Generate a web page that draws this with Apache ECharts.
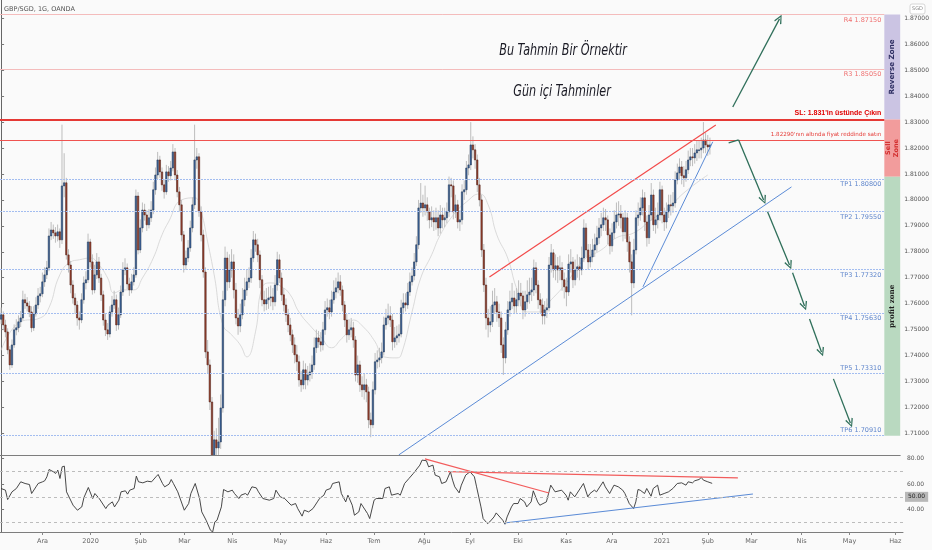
<!DOCTYPE html>
<html><head><meta charset="utf-8">
<script src="https://cdn.jsdelivr.net/npm/echarts@6/dist/echarts.min.js"></script>
<style>html,body{margin:0;padding:0;background:#fafafa}#c{width:932px;height:550px}</style>
</head><body><div id="c"></div>
<script>
// ---------- data ----------
const firstOpen = 1.7540;
const closes = [
1.7557,1.7518,1.7491,1.7422,1.7364,1.7441,1.7499,1.7507,1.7530,1.7545,
1.7615,1.7603,1.7591,1.7568,1.7507,1.7561,1.7595,1.7630,1.7638,1.7684,
1.7711,1.7738,1.7861,1.7884,1.7873,1.7861,1.7877,1.7846,1.8054,1.8066,
1.7788,1.7749,1.7672,1.7622,1.7595,1.7545,1.7537,1.7615,1.7680,1.7692,
1.7838,1.7761,1.7653,1.7711,1.7761,1.7699,1.7634,1.7537,1.7499,1.7483,
1.7568,1.7595,1.7615,1.7518,1.7557,1.7645,1.7730,1.7738,1.7676,1.7653,
1.7684,1.7711,1.8015,1.7807,1.7892,1.7961,1.7942,1.7904,1.7931,1.7961,
1.8039,1.8096,1.8154,1.8108,1.8058,1.8031,1.8108,1.8093,1.8123,1.8185,
1.8096,1.8031,1.7981,1.7865,1.7749,1.7776,1.7815,1.7892,1.7981,1.8154,
1.8166,1.7954,1.7865,1.7722,1.7414,1.7364,1.7221,1.7000,1.7075,1.7044,
1.7067,1.7198,1.7615,1.7776,1.7684,1.7730,1.7761,1.7653,1.7545,1.7514,
1.7557,1.7615,1.7653,1.7684,1.7699,1.7776,1.7846,1.7827,1.7788,1.7692,
1.7615,1.7599,1.7615,1.7622,1.7626,1.7607,1.7672,1.7769,1.7699,1.7634,
1.7595,1.7557,1.7518,1.7480,1.7441,1.7403,1.7376,1.7306,1.7287,1.7345,
1.7306,1.7325,1.7337,1.7364,1.7430,1.7468,1.7453,1.7441,1.7499,1.7576,
1.7584,1.7568,1.7615,1.7645,1.7661,1.7684,1.7653,1.7595,1.7537,1.7480,
1.7499,1.7507,1.7460,1.7325,1.7364,1.7287,1.7268,1.7287,1.7260,1.7152,
1.7133,1.7268,1.7376,1.7383,1.7391,1.7414,1.7518,1.7545,1.7553,1.7537,
1.7453,1.7468,1.7476,1.7483,1.7584,1.7603,1.7595,1.7645,1.7684,1.7707,
1.7761,1.7827,1.7969,1.7988,1.7969,1.7981,1.7954,1.7923,1.7931,1.7915,
1.7931,1.7892,1.7942,1.7923,1.7931,1.7954,1.8058,1.8054,1.7954,1.7981,
1.7915,1.7923,1.8031,1.8039,1.8123,1.8135,1.8212,1.8193,1.8154,1.8058,
1.8000,1.7807,1.7672,1.7545,1.7518,1.7530,1.7595,1.7607,1.7568,1.7545,
1.7441,1.7391,1.7499,1.7576,1.7607,1.7622,1.7591,1.7615,1.7641,1.7630,
1.7576,1.7607,1.7634,1.7645,1.7653,1.7738,1.7672,1.7615,1.7595,1.7553,
1.7576,1.7584,1.7749,1.7796,1.7730,1.7746,1.7730,1.7738,1.7692,1.7665,
1.7645,1.7753,1.7761,1.7692,1.7730,1.7742,1.7730,1.7776,1.7892,1.7807,
1.7761,1.7780,1.7807,1.7827,1.7854,1.7892,1.7904,1.7931,1.7923,1.7865,
1.7823,1.7873,1.7915,1.7942,1.7946,1.7931,1.7877,1.7931,1.7838,1.7761,
1.7680,1.7807,1.7931,1.7942,1.7969,1.8008,1.7915,1.7854,1.7942,1.8019,
1.7904,1.7923,1.7942,1.8039,1.7942,1.7915,1.7954,1.7981,1.7977,1.7988,
1.8077,1.8104,1.8127,1.8093,1.8085,1.8116,1.8154,1.8166,1.8162,1.8181,
1.8193,1.8193,1.8200,1.8231,1.8212,1.8204,1.8212];
const highs = [
1.7585,1.7570,1.7538,1.7505,1.7436,1.7462,1.7520,1.7540,1.7555,1.7572,
1.7650,1.7638,1.7625,1.7610,1.7590,1.7590,1.7625,1.7660,1.7665,1.7720,
1.7740,1.7765,1.7890,1.7915,1.7905,1.7895,1.7905,1.7890,1.8290,1.8180,
1.8085,1.7810,1.7765,1.7690,1.7640,1.7610,1.7570,1.7640,1.7705,1.7725,
1.7870,1.7850,1.7790,1.7750,1.7795,1.7780,1.7715,1.7650,1.7560,1.7525,
1.7590,1.7630,1.7650,1.7635,1.7585,1.7670,1.7760,1.7775,1.7755,1.7700,
1.7715,1.7740,1.8040,1.8030,1.7925,1.7990,1.7985,1.7960,1.7965,1.7995,
1.8070,1.8125,1.8185,1.8170,1.8125,1.8080,1.8135,1.8130,1.8150,1.8215,
1.8200,1.8115,1.8050,1.8000,1.7880,1.7805,1.7845,1.7920,1.8010,1.8290,
1.8200,1.8180,1.7975,1.7885,1.7740,1.7460,1.7385,1.7240,1.7110,1.7120,
1.7160,1.7250,1.7650,1.7820,1.7800,1.7790,1.7810,1.7790,1.7680,1.7580,
1.7600,1.7660,1.7700,1.7730,1.7740,1.7810,1.7880,1.7870,1.7850,1.7805,
1.7710,1.7650,1.7660,1.7665,1.7670,1.7660,1.7710,1.7800,1.7790,1.7720,
1.7660,1.7620,1.7580,1.7545,1.7500,1.7470,1.7440,1.7400,1.7340,1.7380,
1.7370,1.7360,1.7370,1.7400,1.7470,1.7500,1.7495,1.7490,1.7530,1.7610,
1.7620,1.7615,1.7650,1.7690,1.7700,1.7720,1.7710,1.7670,1.7610,1.7560,
1.7540,1.7545,1.7530,1.7475,1.7400,1.7380,1.7320,1.7330,1.7310,1.7280,
1.7180,1.7300,1.7410,1.7420,1.7430,1.7450,1.7550,1.7580,1.7600,1.7590,
1.7560,1.7510,1.7515,1.7520,1.7615,1.7640,1.7640,1.7680,1.7720,1.7740,
1.7795,1.7860,1.8000,1.8065,1.8020,1.8055,1.8010,1.7970,1.7975,1.7960,
1.7970,1.7960,1.7980,1.7970,1.7970,1.7990,1.8090,1.8085,1.8075,1.8020,
1.8000,1.7960,1.8060,1.8075,1.8150,1.8175,1.8300,1.8245,1.8215,1.8175,
1.8085,1.8020,1.7830,1.7700,1.7580,1.7590,1.7650,1.7660,1.7630,1.7600,
1.7570,1.7470,1.7530,1.7610,1.7650,1.7680,1.7650,1.7660,1.7690,1.7680,
1.7650,1.7650,1.7690,1.7700,1.7700,1.7770,1.7760,1.7690,1.7640,1.7620,
1.7610,1.7620,1.7780,1.7830,1.7810,1.7790,1.7780,1.7785,1.7760,1.7720,
1.7700,1.7790,1.7810,1.7780,1.7770,1.7790,1.7780,1.7820,1.7925,1.7910,
1.7830,1.7830,1.7850,1.7870,1.7900,1.7930,1.7950,1.7970,1.7965,1.7940,
1.7890,1.7910,1.7960,1.7990,1.7995,1.7980,1.7950,1.7960,1.7950,1.7860,
1.7790,1.7850,1.7960,1.7990,1.8010,1.8040,1.8030,1.7940,1.7980,1.8065,
1.8040,1.7970,1.7990,1.8070,1.8055,1.7970,1.7990,1.8020,1.8020,1.8030,
1.8110,1.8140,1.8160,1.8150,1.8130,1.8150,1.8190,1.8200,1.8200,1.8215,
1.8230,1.8230,1.8240,1.8300,1.8260,1.8250,1.8240];
const lows = [
1.7522,1.7497,1.7470,1.7405,1.7345,1.7352,1.7430,1.7478,1.7490,1.7510,
1.7535,1.7580,1.7570,1.7548,1.7490,1.7495,1.7550,1.7580,1.7605,1.7625,
1.7665,1.7695,1.7725,1.7845,1.7850,1.7835,1.7840,1.7815,1.7830,1.8010,
1.7770,1.7720,1.7640,1.7600,1.7560,1.7515,1.7500,1.7525,1.7600,1.7655,
1.7680,1.7740,1.7635,1.7640,1.7695,1.7680,1.7610,1.7515,1.7475,1.7460,
1.7470,1.7550,1.7580,1.7495,1.7500,1.7545,1.7630,1.7710,1.7655,1.7630,
1.7640,1.7670,1.7700,1.7790,1.7795,1.7875,1.7920,1.7880,1.7890,1.7915,
1.7945,1.8020,1.8080,1.8085,1.8035,1.8005,1.8020,1.8070,1.8075,1.8110,
1.8075,1.8010,1.7955,1.7840,1.7720,1.7730,1.7760,1.7800,1.7875,1.7965,
1.8120,1.7935,1.7840,1.7700,1.7390,1.7330,1.7190,1.6900,1.6950,1.6980,
1.6990,1.7040,1.7180,1.7590,1.7650,1.7660,1.7700,1.7620,1.7520,1.7480,
1.7490,1.7540,1.7590,1.7630,1.7660,1.7680,1.7760,1.7800,1.7760,1.7660,
1.7590,1.7570,1.7575,1.7580,1.7590,1.7575,1.7590,1.7650,1.7680,1.7610,
1.7570,1.7530,1.7490,1.7455,1.7410,1.7370,1.7340,1.7280,1.7260,1.7270,
1.7270,1.7285,1.7300,1.7310,1.7345,1.7410,1.7430,1.7415,1.7420,1.7480,
1.7550,1.7540,1.7550,1.7600,1.7620,1.7640,1.7630,1.7570,1.7510,1.7450,
1.7460,1.7470,1.7430,1.7300,1.7295,1.7260,1.7240,1.7230,1.7220,1.7120,
1.7085,1.7120,1.7250,1.7350,1.7355,1.7370,1.7400,1.7500,1.7520,1.7510,
1.7420,1.7430,1.7440,1.7450,1.7470,1.7560,1.7570,1.7580,1.7630,1.7670,
1.7690,1.7745,1.7810,1.7950,1.7935,1.7940,1.7920,1.7890,1.7895,1.7880,
1.7885,1.7860,1.7870,1.7890,1.7895,1.7910,1.7935,1.8010,1.7925,1.7930,
1.7890,1.7880,1.7905,1.8000,1.8020,1.8095,1.8115,1.8160,1.8120,1.8030,
1.7975,1.7780,1.7645,1.7500,1.7470,1.7490,1.7510,1.7560,1.7530,1.7510,
1.7410,1.7325,1.7370,1.7480,1.7550,1.7580,1.7560,1.7565,1.7590,1.7590,
1.7540,1.7550,1.7580,1.7600,1.7610,1.7630,1.7640,1.7580,1.7560,1.7520,
1.7520,1.7545,1.7570,1.7720,1.7700,1.7690,1.7680,1.7690,1.7650,1.7620,
1.7590,1.7630,1.7720,1.7660,1.7670,1.7700,1.7690,1.7710,1.7760,1.7780,
1.7730,1.7740,1.7760,1.7780,1.7800,1.7830,1.7860,1.7880,1.7880,1.7830,
1.7790,1.7800,1.7850,1.7890,1.7900,1.7890,1.7840,1.7850,1.7800,1.7720,
1.7555,1.7660,1.7790,1.7900,1.7920,1.7940,1.7880,1.7820,1.7830,1.7920,
1.7880,1.7870,1.7890,1.7920,1.7910,1.7880,1.7890,1.7930,1.7940,1.7950,
1.7970,1.8060,1.8080,1.8060,1.8050,1.8070,1.8100,1.8130,1.8130,1.8140,
1.8150,1.8160,1.8160,1.8180,1.8180,1.8170,1.8175];
// light moving-average curve, read as [bar index, price]
const maPoints = [[0,1.7420],[9,1.7530],[18,1.7545],[22,1.7584],[27,1.7711],[32,1.7761],[36,1.7769],[41,1.7776],[45,1.7749],[49,1.7699],[52,1.7641],[56,1.7653],[61,1.7653],[65,1.7699],[70,1.7776],[74,1.7865],[77,1.7915],[83,1.8000],[89,1.8008],[92,1.7954],[95,1.7838],[98,1.7711],[102,1.7518],[106,1.7480],[110,1.7441],[113,1.7395],[117,1.7491],[120,1.7661],[124,1.7680],[129,1.7665],[133,1.7634],[137,1.7568],[143,1.7507],[147,1.7472],[152,1.7430],[156,1.7460],[160,1.7499],[162,1.7537],[167,1.7507],[172,1.7453],[176,1.7395],[182,1.7391],[184,1.7403],[189,1.7568],[193,1.7699],[198,1.7788],[202,1.7865],[208,1.7942],[214,1.7992],[220,1.8023],[224,1.7981],[228,1.7865],[233,1.7776],[237,1.7661],[242,1.7568],[247,1.7568],[253,1.7615],[260,1.7680],[268,1.7769],[276,1.7807],[283,1.7854],[291,1.7873],[299,1.7923],[306,1.7961],[314,1.8027],[325,1.8096]];
// RSI read as [bar index, value]
const rsiPoints = [[0,56.5],[2,55.2],[3,47.9],[5,53.9],[7,56.5],[9,61.7],[11,60.4],[13,59.6],[14,52.6],[16,57.8],[17,60.4],[19,61.7],[20,62.5],[21,65.6],[22,71.3],[24,69.5],[25,68.2],[26,70.8],[27,64.3],[28,73.4],[29,73.9],[30,53.9],[33,43.5],[35,39.6],[37,42.2],[38,49.5],[40,57.3],[42,48.7],[43,52.6],[45,48.7],[48,40.9],[49,43.5],[51,46.1],[52,42.2],[54,47.4],[55,53.9],[57,54.7],[58,52.1],[59,55.2],[61,56.5],[62,66.1],[63,61.7],[65,60.9],[67,62.2],[69,61.7],[71,65.6],[72,67.4],[74,60.4],[75,57.8],[77,59.9],[78,63.5],[79,60.4],[81,53.9],[84,39.6],[86,44.8],[87,52.6],[89,60.4],[91,48.7],[92,38.3],[94,31.8],[96,24.0],[97,22.7],[98,30.5],[99,31.8],[101,42.2],[102,55.7],[104,53.9],[106,55.2],[107,52.6],[109,48.7],[110,51.3],[112,52.6],[113,51.3],[115,57.8],[117,57.0],[118,53.9],[120,48.7],[123,47.4],[125,48.7],[126,55.2],[128,50.0],[130,48.7],[133,43.5],[135,44.8],[136,40.9],[138,35.0],[139,39.6],[141,38.3],[143,40.9],[145,46.1],[146,48.7],[148,51.3],[149,55.2],[151,56.5],[152,60.4],[155,61.7],[156,52.6],[158,46.1],[159,51.3],[161,43.5],[162,35.7],[164,38.3],[165,44.8],[166,42.2],[168,37.0],[169,33.1],[171,47.4],[172,48.7],[175,48.7],[176,56.5],[178,57.8],[179,51.3],[182,52.6],[183,51.3],[185,60.4],[187,64.3],[189,68.2],[192,74.7],[193,78.6],[195,78.1],[196,73.4],[198,74.7],[199,66.9],[201,65.6],[202,60.4],[204,61.7],[206,69.5],[207,63.0],[208,57.8],[210,53.1],[211,59.1],[213,66.9],[215,69.5],[217,65.6],[218,57.8],[220,42.2],[221,33.1],[223,29.2],[224,30.5],[226,34.4],[227,37.5],[230,31.8],[231,28.7],[232,34.4],[234,42.2],[235,44.8],[237,44.8],[238,48.7],[240,46.1],[241,42.2],[243,46.1],[244,54.7],[246,46.1],[247,43.5],[250,46.1],[252,59.1],[253,56.5],[254,53.9],[257,55.2],[259,51.3],[260,47.4],[261,53.9],[263,50.0],[267,60.4],[269,50.0],[270,52.6],[272,55.2],[273,53.9],[276,61.7],[277,57.8],[279,52.6],[281,59.1],[283,57.8],[285,55.2],[286,52.6],[288,44.8],[290,40.9],[291,46.1],[292,55.7],[293,55.2],[295,52.6],[296,56.5],[298,50.5],[299,56.5],[301,59.1],[302,51.3],[304,52.6],[306,53.9],[308,56.5],[310,60.4],[312,60.9],[314,59.1],[315,61.7],[317,60.9],[318,62.5],[320,63.5],[321,65.1],[322,63.0],[324,61.7],[326,60.5]];

// horizontal levels
const levelPrices = [1.8715, 1.8505, 1.8080, 1.7955, 1.7732, 1.7563, 1.7331, 1.7091];
const levelTexts = ['R4 1.87150','R3 1.85050','TP1 1.80800','TP2 1.79550','TP3 1.77320','TP4 1.75630','TP5 1.73310','TP6 1.70910'];
const stopPrice = 1.831, stopText = "SL: 1.831'in üstünde Çıkın";
const sellPrice = 1.8229, sellText = "1.82290'nın altında fiyat reddinde satın";
// zones [low, high]
const zoneNames = ['Reverse Zone', 'Sell\nZone', 'profit zone'];
const zoneRanges = [[1.831, 1.8715], [1.8089, 1.831], [1.7091, 1.8089]];
// drawn lines in [bar index, price]
const channelTop = [[224.6, 1.7703], [328.7, 1.8289]];
const supportLong = [[182.9, 1.7017], [363.5, 1.8050]];
const supportSteep = [[295.2, 1.7665], [327.3, 1.8224]];
const arrowsNoHead = [[[334.6, 1.8220], [339.2, 1.8231]]];
const arrows = [
  [[336.5, 1.8358], [358.0, 1.8698]],
  [[339.2, 1.8231], [350.7, 1.8000]],
  [[352.5, 1.7954], [362.6, 1.7749]],
  [[364.0, 1.7719], [369.5, 1.7591]],
  [[371.8, 1.7541], [377.3, 1.7414]],
  [[382.8, 1.7310], [390.6, 1.7140]]
];
// RSI drawn lines in [bar index, rsi]
const rsiRed1 = [[194.3, 79.5], [251.2, 53.0]];
const rsiRed2 = [[204.9, 69.6], [337.8, 64.7]];
const rsiBlue = [[230.6, 29.6], [344.7, 52.2]];
const rsiGuides = [70, 50, 30];
// ticks
const priceTicks = [1.71,1.72,1.73,1.74,1.75,1.76,1.77,1.78,1.79,1.80,1.81,1.82,1.83,1.84,1.85,1.86,1.87];
const rsiTicks = [40, 60, 80];
const trMonths = ['Oca','Şub','Mar','Nis','May','Haz','Tem','Ağu','Eyl','Eki','Kas','Ara'];

// ---------- build ----------
const N = 414;
const dates = [];
{ let t = Date.UTC(2019, 10, 5);
  while (dates.length < N) { const d = new Date(t); const w = d.getUTCDay();
    if (w !== 0 && w !== 6) dates.push(d.toISOString().slice(0, 10)); t += 86400000; } }
const monthStart = dates.map((s, i) => i > 0 && s.slice(5, 7) !== dates[i - 1].slice(5, 7));
const monthLabel = s => { const m = +s.slice(5, 7) - 1; return m === 0 ? s.slice(0, 4) : trMonths[m]; };
const candles = closes.map((c, i) => [i, i === 0 ? firstOpen : closes[i - 1], c, lows[i], highs[i]]);

const PMAX = 1.87706, PMIN = 1.70166;
const ZX0 = 406.2, ZX1 = N - 0.5;
const chevron = 'path://M5,0 L10,9 L8.6,10 L5,2.6 L1.4,10 L0,9 Z';

const levelLines = levelPrices.map((p, i) => {
  const tp = levelTexts[i].startsWith('TP');
  const above = i >= 6;
  const col = tp ? '#5f86cc' : '#ef6f6f';
  return [{ coord: [-0.5, p], lineStyle: { color: tp ? '#a3bdf0' : '#f4bcbc', width: 1, type: tp ? [2, 1] : 'solid' },
            label: { show: true, formatter: levelTexts[i], position: above ? 'insideEndTop' : 'insideEndBottom', color: col,
                     fontSize: 6.5, fontFamily: 'DejaVu Sans', distance: [3, 2] } },
          { coord: [ZX0, p] }];
});
levelLines.push([{ coord: [-0.5, stopPrice], lineStyle: { color: '#e53935', width: 2, type: 'solid' },
  label: { show: true, formatter: stopText, position: 'insideEndTop', color: '#e00000', fontSize: 7, fontWeight: 'bold', fontFamily: 'Liberation Sans', distance: [3, 3] } },
  { coord: [ZX0, stopPrice] }]);
levelLines.push([{ coord: [-0.5, sellPrice], lineStyle: { color: '#ef5350', width: 1.2, type: 'solid' },
  label: { show: true, formatter: sellText, position: 'insideEndTop', color: '#e53935', fontSize: 5.6, fontFamily: 'DejaVu Sans', distance: [3, 3] } },
  { coord: [ZX0, sellPrice] }]);

const zoneColors = ['#cbc4e3', '#f29c9c', '#b9d9c0'];
const zoneTextColors = ['#2f2f63', '#d32f2f', '#1d1d1d'];
const zoneAreas = zoneRanges.map((r, i) => [
  { coord: [ZX0, r[1]], itemStyle: { color: zoneColors[i] },
    label: { show: true, position: 'inside', rotate: 90, formatter: zoneNames[i], color: zoneTextColors[i],
             fontSize: i === 1 ? 6.5 : 7.2, fontWeight: 'bold', fontFamily: i === 2 ? 'DejaVu Serif' : 'DejaVu Sans', lineHeight: 8 } },
  { coord: [ZX1, r[0]] }]);

const lineSeries = (data, color, width, xi, yi) => ({ type: 'line', xAxisIndex: xi, yAxisIndex: yi, data, symbol: 'none',
  lineStyle: { color, width }, silent: true, z: 4 });

const titleFont = 'italic 15px "Liberation Sans Narrow", "DejaVu Sans Condensed", sans-serif';

const chart = echarts.init(document.getElementById('c'), null, { renderer: 'canvas' });
chart.setOption({
  animation: false,
  backgroundColor: '#fafafa',
  grid: [{ left: 0, top: 0, width: 903, height: 455 }, { left: 0, top: 455, width: 903, height: 77 }],
  xAxis: [
    { type: 'category', gridIndex: 0, data: dates, boundaryGap: true,
      axisLine: { show: true, lineStyle: { color: '#7d7d7d' } }, axisTick: { show: false }, axisLabel: { show: false }, splitLine: { show: false } },
    { type: 'category', gridIndex: 1, data: dates, boundaryGap: true,
      axisLine: { show: true, lineStyle: { color: '#7d7d7d' } },
      axisTick: { show: true, interval: i => monthStart[i], alignWithLabel: true, length: 3, lineStyle: { color: '#888' } },
      axisLabel: { interval: i => monthStart[i], formatter: v => monthLabel(v), fontSize: 6.5, color: '#666', fontFamily: 'DejaVu Sans', margin: 6 },
      splitLine: { show: false } },
    { type: 'value', gridIndex: 0, min: -0.5, max: N - 0.5, show: false },
    { type: 'value', gridIndex: 1, min: -0.5, max: N - 0.5, show: false }
  ],
  yAxis: [
    { type: 'value', gridIndex: 0, position: 'right', min: PMIN, max: PMAX,
      axisLine: { show: true, lineStyle: { color: '#666' } },
      axisTick: { show: true, length: 3, customValues: priceTicks, lineStyle: { color: '#777' } },
      axisLabel: { customValues: priceTicks, formatter: v => v.toFixed(5), fontSize: 6, color: '#555', fontFamily: 'DejaVu Sans', margin: 4 },
      splitLine: { show: false } },
    { type: 'value', gridIndex: 1, position: 'right', min: 22.65, max: 82.57,
      axisLine: { show: true, lineStyle: { color: '#666' } },
      axisTick: { show: true, length: 3, customValues: rsiTicks, lineStyle: { color: '#777' } },
      axisLabel: { customValues: rsiTicks, formatter: v => v.toFixed(2), fontSize: 6, color: '#555', fontFamily: 'DejaVu Sans', margin: 4 },
      splitLine: { show: false } }
  ],
  series: [
    { type: 'line', xAxisIndex: 2, yAxisIndex: 0, data: [], silent: true, z: 1,
      markArea: { silent: true, data: zoneAreas },
      markLine: { silent: true, symbol: ['none', 'none'], data: levelLines } },
    { type: 'line', xAxisIndex: 2, yAxisIndex: 0, data: maPoints, symbol: 'none', smooth: 0.5,
      lineStyle: { color: '#d2d2d2', width: 0.8 }, silent: true, z: 2 },
    { type: 'custom', xAxisIndex: 0, yAxisIndex: 0, data: candles, clip: true, silent: true, z: 3,
      encode: { x: 0, y: [1, 2, 3, 4] },
      renderItem: (params, api) => {
        const i = api.value(0), o = api.value(1), c = api.value(2), l = api.value(3), h = api.value(4);
        const pO = api.coord([i, o]), pC = api.coord([i, c]), pL = api.coord([i, l]), pH = api.coord([i, h]);
        const w = api.size([1, 0])[0] * 0.68;
        const top = Math.min(pO[1], pC[1]), bot = Math.max(pO[1], pC[1]);
        const up = c >= o;
        return { type: 'group', children: [
          { type: 'line', shape: { x1: pL[0], y1: pL[1], x2: pH[0], y2: pH[1] }, style: { stroke: '#bdbdbd', lineWidth: 1 } },
          { type: 'rect', shape: { x: pO[0] - w / 2, y: top, width: w, height: Math.max(bot - top, 0.8) },
            style: { fill: up ? '#3e659c' : '#96412f', stroke: up ? '#1f324e' : '#4a1d15', lineWidth: 0.5 } }
        ] };
      } },
    lineSeries(channelTop, '#f24a4a', 1.2, 2, 0),
    lineSeries(supportLong, '#5b8bd6', 1, 2, 0),
    lineSeries(supportSteep, '#5b8bd6', 1, 2, 0),
    { type: 'line', xAxisIndex: 2, yAxisIndex: 0, data: [], silent: true, z: 5,
      markLine: { silent: true, symbol: ['none', chevron], symbolSize: [8, 9],
        lineStyle: { color: '#2f6f5a', width: 1.3, type: 'solid' }, label: { show: false },
        data: arrows.map(a => [{ coord: a[0] }, { coord: a[1] }]) } },
    { type: 'line', xAxisIndex: 2, yAxisIndex: 0, data: [], silent: true, z: 5,
      markLine: { silent: true, symbol: ['none', 'none'],
        lineStyle: { color: '#2f6f5a', width: 1.3, type: 'solid' }, label: { show: false },
        data: arrowsNoHead.map(a => [{ coord: a[0] }, { coord: a[1] }]) } },
    { type: 'line', xAxisIndex: 3, yAxisIndex: 1, data: rsiPoints, symbol: 'none',
      lineStyle: { color: '#333', width: 0.9 }, silent: true, z: 4,
      markLine: { silent: true, symbol: ['none', 'none'],
        data: rsiGuides.map(v => ({ yAxis: v, lineStyle: { color: '#bcbcbc', type: [3, 3], width: 1 },
          label: v === 50 ? { show: true, position: 'end', formatter: '50.00', fontSize: 6, color: '#222', backgroundColor: '#b8b8b8', padding: [2, 3], distance: 2, fontFamily: 'DejaVu Sans' } : { show: false } })) } },
    lineSeries(rsiRed1, '#f25c5c', 1.2, 3, 1),
    lineSeries(rsiRed2, '#f25c5c', 1.2, 3, 1),
    lineSeries(rsiBlue, '#5b8bd6', 1.1, 3, 1)
  ],
  graphic: [
    { type: 'text', left: 4, top: 6, style: { text: 'GBP/SGD, 1G, OANDA', fill: '#555', font: '6.5px DejaVu Sans' }, z: 10 },
    { type: 'text', x: 563, y: 51, scaleX: 0.83, style: { text: 'Bu Tahmin Bir Örnektir', fill: '#1a1a24', font: titleFont, align: 'center', verticalAlign: 'middle' }, z: 10 },
    { type: 'text', x: 562, y: 92, scaleX: 0.83, style: { text: 'Gün içi Tahminler', fill: '#1a1a24', font: titleFont, align: 'center', verticalAlign: 'middle' }, z: 10 },
    { type: 'rect', shape: { x: 910, y: 4, width: 15, height: 10, r: 2 }, style: { fill: '#fff', stroke: '#ccc', lineWidth: 0.8 }, z: 10 },
    { type: 'text', x: 917.5, y: 9, style: { text: 'SGD', fill: '#888', font: '5px DejaVu Sans', align: 'center', verticalAlign: 'middle' }, z: 11 }
  ]
});
</script>
</body></html>
